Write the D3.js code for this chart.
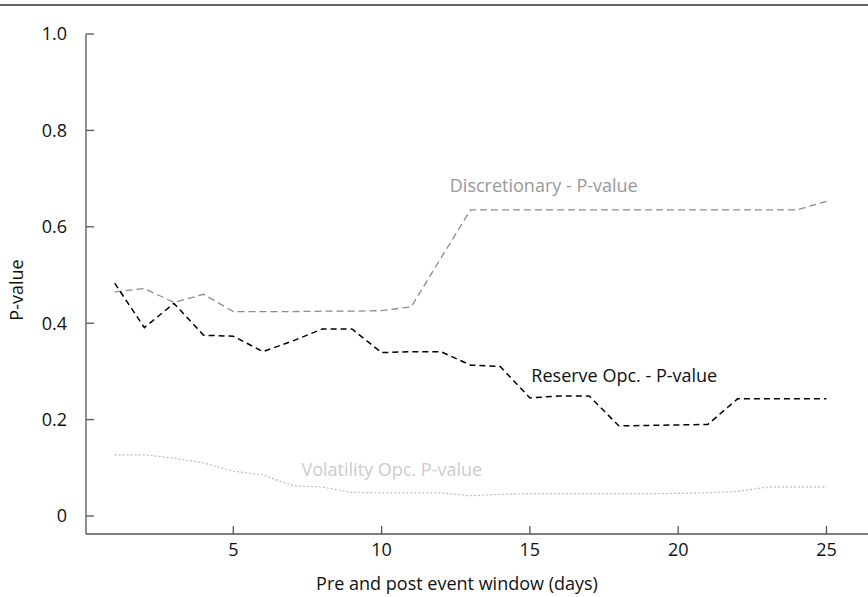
<!DOCTYPE html>
<html>
<head>
<meta charset="utf-8">
<script src="https://cdn.jsdelivr.net/npm/d3@7"></script>
<style>
  html, body { margin: 0; padding: 0; background: #fff; }
  svg { display: block; }
  text { font-family: "Open Sans", "Noto Sans", sans-serif; }
</style>
</head>
<body>
<svg id="chart" width="868" height="597"></svg>
<script>
const days = d3.range(1, 26);
const discretionary = [0.465, 0.472, 0.443, 0.460, 0.424, 0.424, 0.424, 0.425, 0.425, 0.426, 0.434, 0.535, 0.635, 0.635, 0.635, 0.635, 0.635, 0.635, 0.635, 0.635, 0.635, 0.635, 0.635, 0.635, 0.653];
const reserve = [0.483, 0.391, 0.441, 0.375, 0.373, 0.341, 0.363, 0.388, 0.388, 0.339, 0.341, 0.341, 0.313, 0.310, 0.245, 0.249, 0.249, 0.187, 0.188, 0.189, 0.190, 0.243, 0.243, 0.243, 0.243];
const volatility = [0.127, 0.127, 0.120, 0.110, 0.093, 0.085, 0.063, 0.060, 0.049, 0.048, 0.048, 0.048, 0.042, 0.045, 0.046, 0.046, 0.046, 0.046, 0.046, 0.047, 0.048, 0.051, 0.060, 0.060, 0.060];
const yTicks = [0, 0.2, 0.4, 0.6, 0.8, 1.0];
const xTicks = [5, 10, 15, 20, 25];
const labels = [
  { text: "Discretionary - P-value", day: 12.3, value: 0.672, color: "#999999" },
  { text: "Reserve Opc. - P-value", day: 15.05, value: 0.278, color: "#111111" },
  { text: "Volatility Opc. P-value", day: 7.3, value: 0.082, color: "#cccccc" }
];

const svg = d3.select("#chart");
const x = d3.scaleLinear().domain([0, 26.4]).range([85, 868]);
const y = d3.scaleLinear().domain([0, 1]).range([516, 34]);
const fs = 18;

// top rule
svg.append("line").attr("x1", 0).attr("x2", 868).attr("y1", 5).attr("y2", 5)
  .attr("stroke", "#333").attr("stroke-width", 1.5);

const axisColor = "#555";
// y axis
const yAxis = svg.append("g");
yAxis.append("line").attr("x1", 86).attr("x2", 86).attr("y1", y(1)).attr("y2", 534)
  .attr("stroke", axisColor).attr("stroke-width", 1.3);
yAxis.selectAll("line.tick").data(yTicks).join("line").attr("class", "tick")
  .attr("x1", 86).attr("x2", 94).attr("y1", d => y(d)).attr("y2", d => y(d))
  .attr("stroke", axisColor).attr("stroke-width", 1.3);
yAxis.selectAll("text").data(yTicks).join("text")
  .attr("x", 67).attr("y", d => y(d)).attr("dy", "0.35em").attr("text-anchor", "end")
  .attr("font-size", fs).attr("fill", "#111")
  .text(d => d === 0 ? "0" : d3.format(".1f")(d));

// x axis
const xAxis = svg.append("g");
xAxis.append("line").attr("x1", 86).attr("x2", 868).attr("y1", 534).attr("y2", 534)
  .attr("stroke", axisColor).attr("stroke-width", 1.3);
xAxis.selectAll("line.tick").data(xTicks).join("line").attr("class", "tick")
  .attr("x1", d => x(d)).attr("x2", d => x(d)).attr("y1", 534).attr("y2", 526)
  .attr("stroke", axisColor).attr("stroke-width", 1.3);
xAxis.selectAll("text").data(xTicks).join("text")
  .attr("x", d => x(d)).attr("y", 556).attr("text-anchor", "middle")
  .attr("font-size", fs).attr("fill", "#111").text(d => d);

svg.append("text").attr("x", 457).attr("y", 590).attr("text-anchor", "middle")
  .attr("font-size", fs).attr("fill", "#111").text("Pre and post event window (days)");
svg.append("text").attr("transform", "translate(23,290) rotate(-90)")
  .attr("text-anchor", "middle").attr("font-size", fs).attr("fill", "#111").text("P-value");

const line = d3.line().x((d, i) => x(days[i])).y(d => y(d));

svg.append("path").datum(volatility).attr("d", line).attr("fill", "none")
  .attr("stroke", "#bbbbbb").attr("stroke-width", 1.2).attr("stroke-dasharray", "2,2");
svg.append("path").datum(discretionary).attr("d", line).attr("fill", "none")
  .attr("stroke", "#8c8c8c").attr("stroke-width", 1.3).attr("stroke-dasharray", "7,4");
svg.append("path").datum(reserve).attr("d", line).attr("fill", "none")
  .attr("stroke", "#000").attr("stroke-width", 1.5).attr("stroke-dasharray", "6,4");

svg.selectAll("text.series").data(labels).join("text").attr("class", "series")
  .attr("x", d => x(d.day)).attr("y", d => y(d.value))
  .attr("font-size", fs).attr("fill", d => d.color).text(d => d.text);
</script>
</body>
</html>
